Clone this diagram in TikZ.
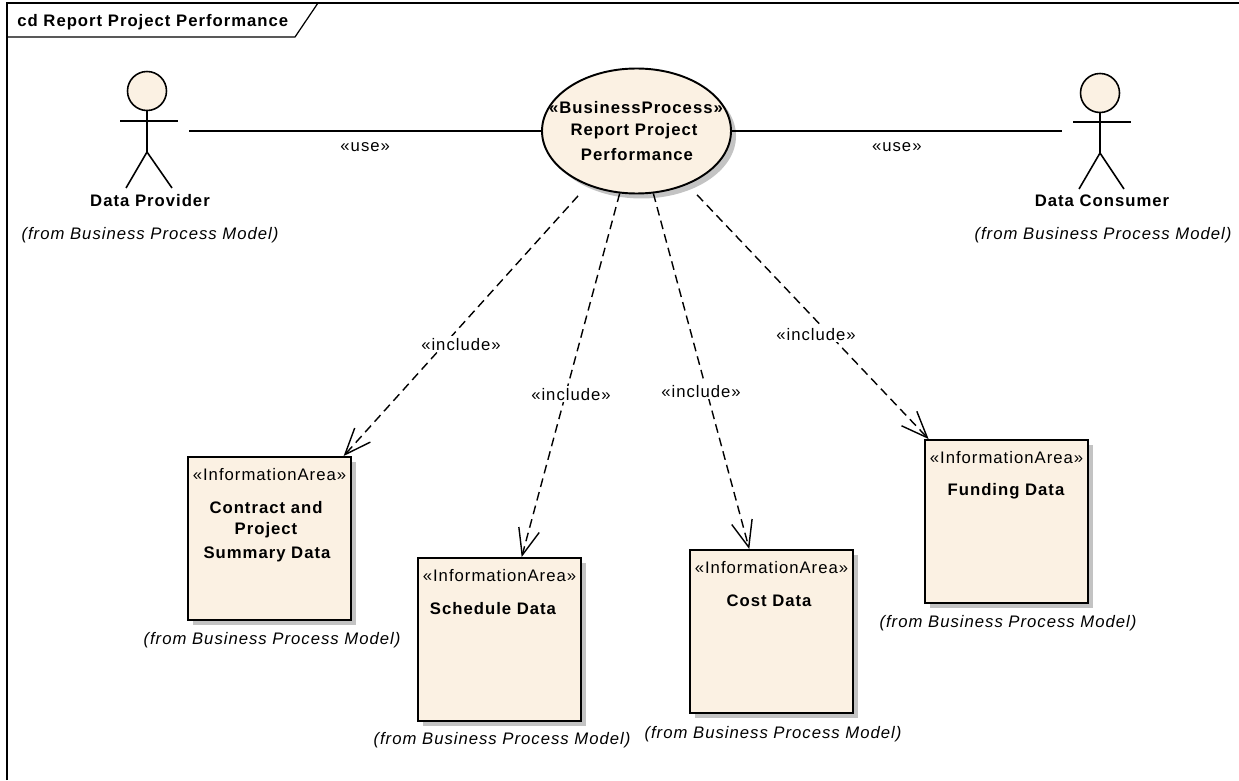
\documentclass[tikz,border=0pt]{standalone}
\usepackage{fontspec}
\usepackage{tikz}
\usetikzlibrary{arrows.meta,shapes.geometric}
\setmainfont[LetterSpace=6]{Liberation Sans}
\definecolor{elementfill}{RGB}{251,241,227}
\definecolor{elementshadow}{RGB}{195,195,195}
\tikzset{
    umltext/.style={font=\fontsize{9.5pt}{11pt}\selectfont, inner sep=0pt, yshift=-0.6pt},
    namelabel/.style={umltext, font=\fontsize{9.5pt}{11pt}\selectfont\bfseries},
    fromlabel/.style={umltext, font=\fontsize{9.5pt}{11pt}\selectfont\itshape},
    usecase/.style={ellipse, draw, line width=1.1pt, fill=elementfill, minimum width=189*0.02cm, minimum height=125*0.02cm, inner sep=0pt},
    infoarea/.style={rectangle, draw, line width=1.1pt, fill=elementfill, minimum width=163*0.02cm, minimum height=163*0.02cm, inner sep=0pt},
    shadowbox/.style={rectangle, fill=elementshadow, minimum width=163*0.02cm, minimum height=163*0.02cm, inner sep=0pt},
    shadowoval/.style={ellipse, fill=elementshadow, minimum width=189*0.02cm, minimum height=125*0.02cm, inner sep=0pt},
    actorspot/.style={rectangle, minimum height=1pt, inner sep=0pt},
    include/.style={line width=0.8pt, dash pattern=on 5pt off 3pt, -{Straight Barb[length=15pt,width=12pt,line width=0.8pt]}},
    useline/.style={line width=0.9pt},
    actorline/.style={line width=0.9pt}
}
\begin{document}
\begin{tikzpicture}[x=0.02cm, y=-0.02cm]
    \useasboundingbox (0,0) rectangle (1239,780);

    % Frame and its tab
    \draw[line width=0.7pt] (7,780) -- (7,3) -- (1239,3);
    \draw[line width=0.7pt] (7,37) -- (295,37) -- (318,3);
    \node[namelabel, anchor=west] (framename) at (17,21) {cd Report Project Performance};

    % Shadows
    \node[shadowoval] (processshadow) at (641.5,136) {};
    \node[shadowbox] (contractshadow) at (274.5,543.5) {};
    \node[shadowbox] (scheduleshadow) at (504.5,644.5) {};
    \node[shadowbox] (costshadow) at (776.5,636.5) {};
    \node[shadowbox] (fundingshadow) at (1011.5,526.5) {};

    % Use case
    \node[usecase] (process) at (636.5,131) {};
    \node[namelabel] (processstereo) at (636,106) {«BusinessProcess»};
    \node[namelabel] (processnameA) at (634,130) {Report Project};
    \node[namelabel] (processnameB) at (637,153) {Performance};

    % Data Provider
    \draw[actorline, fill=elementfill] (147,91) circle (19.5);
    \draw[actorline] (147,110) -- (147,152) (120,121) -- (178,121);
    \draw[actorline] (126,188) -- (147,152) -- (172,188);
    \node[actorspot, minimum width=84*0.02cm] (provider) at (147,131) {};
    \node[namelabel] (providername) at (150,199) {Data Provider};
    \node[fromlabel] (providerfrom) at (150,234) {(from Business Process Model)};

    % Data Consumer
    \draw[actorline, fill=elementfill] (1100,93) circle (19.5);
    \draw[actorline] (1100,112) -- (1100,153) (1073,122) -- (1131,122);
    \draw[actorline] (1079,189) -- (1100,153) -- (1124,189);
    \node[actorspot, minimum width=76*0.02cm] (consumer) at (1100,131) {};
    \node[namelabel] (consumername) at (1102,200) {Data Consumer};
    \node[fromlabel] (consumerfrom) at (1103,234) {(from Business Process Model)};

    % Information areas
    \node[infoarea] (contract) at (269.5,538.5) {};
    \node[umltext] (contractstereo) at (269.5,473) {«InformationArea»};
    \node[namelabel] (contractnameA) at (266,506) {Contract and};
    \node[namelabel] (contractnameB) at (266,529) {Project};
    \node[namelabel] (contractnameC) at (267,553) {Summary Data};
    \node[fromlabel] (contractfrom) at (272,639) {(from Business Process Model)};

    \node[infoarea] (schedule) at (499.5,639.5) {};
    \node[umltext] (schedulestereo) at (499.5,574) {«InformationArea»};
    \node[namelabel] (schedulename) at (493,607) {Schedule Data};
    \node[fromlabel] (schedulefrom) at (502,739) {(from Business Process Model)};

    \node[infoarea] (cost) at (771.5,631.5) {};
    \node[umltext] (coststereo) at (771.5,566) {«InformationArea»};
    \node[namelabel] (costname) at (769,600) {Cost Data};
    \node[fromlabel] (costfrom) at (773,733) {(from Business Process Model)};

    \node[infoarea] (funding) at (1006.5,521.5) {};
    \node[umltext] (fundingstereo) at (1006.5,456) {«InformationArea»};
    \node[namelabel] (fundingname) at (1006,490) {Funding Data};
    \node[fromlabel] (fundingfrom) at (1008,622) {(from Business Process Model)};

    % Connectors
    \draw[useline] (provider.east) -- (process.west) node[umltext, pos=0.5, yshift=-8.5] (useleft) {«use»};
    \draw[useline] (process.east) -- (consumer.west) node[umltext, pos=0.5, yshift=-8.5] (useright) {«use»};
    \draw[include, shorten <=8pt] (process) -- (contract);
    \draw[include] (process) -- (schedule);
    \draw[include] (process) -- (cost);
    \draw[include, shorten <=8pt] (process) -- (funding);

    % Include labels
    \node[umltext, fill=white, inner sep=1pt] (includeA) at (461,343) {«include»};
    \node[umltext, fill=white, inner sep=1pt] (includeB) at (571,393) {«include»};
    \node[umltext, fill=white, inner sep=1pt] (includeC) at (701,390) {«include»};
    \node[umltext, fill=white, inner sep=1pt] (includeD) at (816,333) {«include»};
\end{tikzpicture}
\end{document}
